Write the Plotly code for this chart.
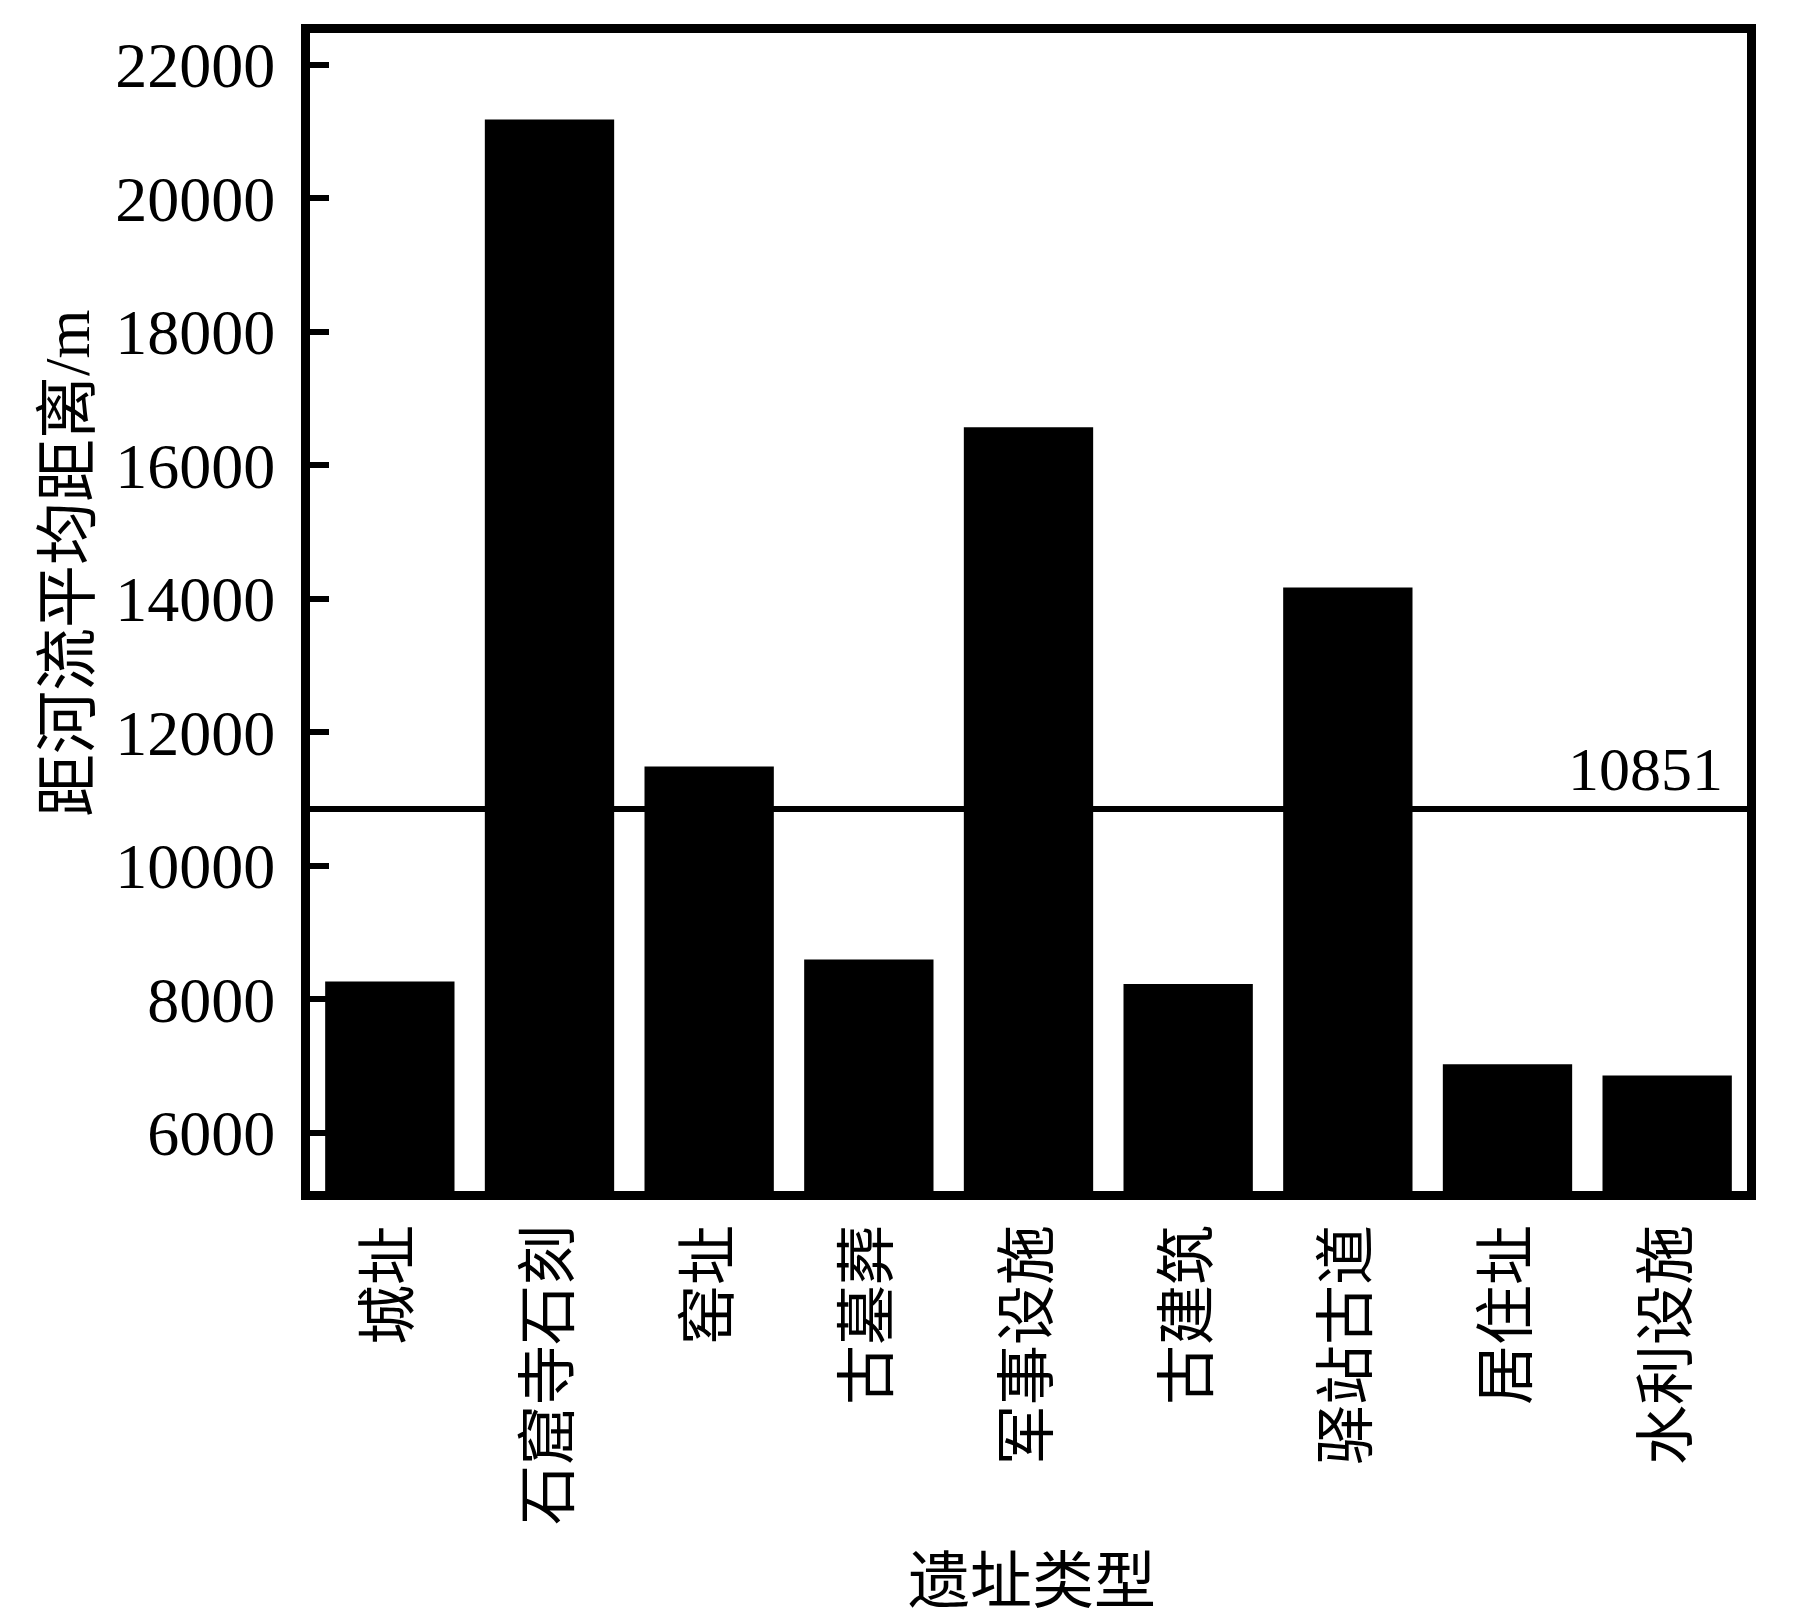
import plotly.graph_objects as go

categories = ["城址", "石窟寺石刻", "窑址", "古墓葬", "军事设施", "古建筑", "驿站古道", "居住址", "水利设施"]
distances = [8270, 21180, 11490, 8600, 16570, 8230, 14170, 7030, 6860]
mean_distance = 10851
y_ticks = [6000, 8000, 10000, 12000, 14000, 16000, 18000, 20000, 22000]

W, H = 1795, 1619
L, R, T, B = 302, 56, 25, 436
pw, ph = W - L - R, H - T - B

serif = "Liberation Serif, Noto Sans CJK SC"

fig = go.Figure()
fig.add_trace(go.Bar(
    x=categories, y=distances,
    marker=dict(color="black", line=dict(width=0)),
    showlegend=False,
))

fig.add_shape(type="line", xref="paper", x0=0, x1=1, yref="y",
              y0=mean_distance, y1=mean_distance,
              line=dict(color="black", width=6))

fig.add_annotation(xref="paper", x=(1717 - L) / pw, yref="y", y=mean_distance,
                   xanchor="right", yanchor="bottom", yshift=4,
                   text=str(mean_distance), showarrow=False,
                   font=dict(family=serif, size=62, color="black"))

# y axis title
fig.add_annotation(xref="paper", x=(60 - L) / pw, yref="paper", y=(H - B - 555) / ph,
                   xanchor="center", yanchor="middle", textangle=-90,
                   text="距河流平均距离/m", showarrow=False,
                   font=dict(family=serif, size=63, color="black"))

# x axis title
fig.add_annotation(xref="paper", x=(1024 - L) / pw, yref="paper", y=(H - B - 1574) / ph,
                   xanchor="center", yanchor="middle",
                   text="遗址类型", showarrow=False,
                   font=dict(family=serif, size=62, color="black"))

fig.update_layout(
    width=W, height=H,
    margin=dict(l=L, r=R, t=T, b=B, pad=0),
    paper_bgcolor="white", plot_bgcolor="white",
    bargap=0.19,
    font=dict(family=serif, color="black"),
)

fig.update_xaxes(
    showline=True, linecolor="black", linewidth=9, mirror=True,
    showgrid=False, ticks="", tickangle=-90,
    tickfont=dict(family=serif, size=60, color="black"),
    ticklabelstandoff=1,
)
fig.update_yaxes(
    range=[5131, 22475], showline=True, linecolor="black", linewidth=9, mirror=True,
    showgrid=False, zeroline=False,
    ticks="inside", ticklen=19, tickwidth=6, tickcolor="black",
    tickvals=y_ticks, ticktext=[str(v) for v in y_ticks],
    tickfont=dict(family="Liberation Serif", size=64, color="black"),
    ticklabelstandoff=13,
)

fig.write_html("out.html")
